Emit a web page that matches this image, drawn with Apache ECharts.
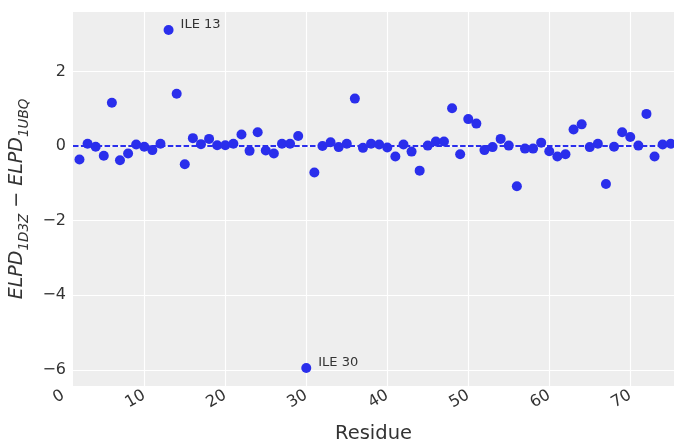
<!DOCTYPE html>
<html><head><meta charset="utf-8">
<script src="https://cdn.jsdelivr.net/npm/echarts@6/dist/echarts.min.js"></script>
<style>html,body{margin:0;padding:0;background:#fff}#c{width:674px;height:443px}</style>
</head><body><div id="c"></div>
<script>
const residues = [2,3,4,5,6,7,8,9,10,11,12,13,14,15,16,17,18,19,20,21,22,23,24,25,26,27,28,29,30,31,32,33,34,35,36,37,38,39,40,41,42,43,44,45,46,47,48,49,50,51,52,53,54,55,56,57,58,59,60,61,62,63,64,65,66,67,68,69,70,71,72,73,74,75];
const elpdDiff = [-0.36,0.06,-0.02,-0.26,1.16,-0.38,-0.20,0.04,-0.02,-0.11,0.06,3.11,1.40,-0.49,0.21,0.05,0.19,0.02,0.02,0.06,0.31,-0.13,0.37,-0.12,-0.20,0.06,0.06,0.27,-5.95,-0.71,0.00,0.10,-0.03,0.06,1.27,-0.05,0.06,0.04,-0.04,-0.28,0.04,-0.15,-0.66,0.01,0.12,0.12,1.01,-0.22,0.72,0.60,-0.11,-0.03,0.19,0.01,-1.08,-0.07,-0.07,0.09,-0.14,-0.28,-0.22,0.44,0.58,-0.03,0.06,-1.02,-0.02,0.37,0.24,0.01,0.86,-0.28,0.04,0.06];
const annotatedResidues = [13, 30];
const annotationLabels = ['ILE 13', 'ILE 30'];
const xTicks = [10,20,30,40,50,60,70];
const xExtraTick = 0;
const yTicks = [-6,-4,-2,0,2];

const FONT = 'DejaVu Sans';
const TXT = '#333333';
const BLUE = '#2a2eec';
const X_MIN = 1.2, X_MAX = 75.4, Y_MIN = -6.43, Y_MAX = 3.59;

const data = residues.map((r, i) => {
  const item = { value: [r, elpdDiff[i]] };
  const k = annotatedResidues.indexOf(r);
  if (k >= 0) item.label = { show: true, formatter: annotationLabels[k] };
  return item;
});

const chart = echarts.init(document.getElementById('c'), null, { renderer: 'canvas' });
const minus = v => String(v).replace('-', '\u2212');
chart.setOption({
  animation: false,
  backgroundColor: '#ffffff',
  grid: { left: 73, right: 0, top: 12, bottom: 57, show: true, backgroundColor: '#eeeeee', borderWidth: 0, containLabel: false, outerBoundsMode: 'none' },
  xAxis: {
    type: 'value', min: X_MIN, max: X_MAX,
    axisLine: { show: false },
    axisTick: { show: false, customValues: xTicks },
    axisLabel: { customValues: xTicks, rotate: 30, fontSize: 16, color: TXT, fontFamily: FONT, margin: 8 },
    splitLine: { show: true, lineStyle: { color: '#ffffff', width: 1.2 } },
    name: 'Residue', nameLocation: 'middle', nameGap: 38,
    nameTextStyle: { fontSize: 19.5, color: TXT, fontFamily: FONT }
  },
  yAxis: {
    type: 'value', min: Y_MIN, max: Y_MAX,
    axisLine: { show: false },
    axisTick: { show: false, customValues: yTicks },
    axisLabel: { customValues: yTicks, fontSize: 16, color: TXT, fontFamily: FONT, margin: 7, formatter: minus },
    splitLine: { show: true, lineStyle: { color: '#ffffff', width: 1.2 } },
    name: '{m|ELPD}{s|1D3Z}{o| \u2212 }{m|ELPD}{s|1UBQ}',
    nameLocation: 'middle', nameGap: 39, nameRotate: 90,
    nameTextStyle: {
      color: TXT, fontFamily: FONT,
      rich: {
        m: { fontSize: 19, fontStyle: 'italic', fontFamily: FONT, color: TXT, lineHeight: 28 },
        o: { fontSize: 19, fontFamily: FONT, color: TXT, lineHeight: 28 },
        s: { fontSize: 13.5, fontStyle: 'italic', fontFamily: FONT, color: TXT, lineHeight: 14, verticalAlign: 'bottom' }
      }
    }
  },
  series: [{
    type: 'scatter',
    data: data,
    symbolSize: 10,
    itemStyle: { color: BLUE, opacity: 1 },
    label: { show: false, position: 'right', distance: 7, offset: [0, -5], fontSize: 13, color: TXT, fontFamily: FONT },
    markLine: {
      silent: true, symbol: 'none', label: { show: false },
      lineStyle: { type: [5.5, 2.4], color: BLUE, width: 1.8 },
      data: [{ yAxis: 0 }]
    }
  }]
});

const px0 = chart.convertToPixel({ xAxisIndex: 0 }, xExtraTick);
const pyBottom = chart.convertToPixel({ yAxisIndex: 0 }, Y_MIN);
chart.setOption({
  graphic: [{
    type: 'text', x: px0, y: pyBottom + 8, rotation: Math.PI / 6,
    style: { text: String(xExtraTick), align: 'right', verticalAlign: 'middle', fontSize: 16, fill: TXT, fontFamily: FONT }
  }]
});
</script></body></html>
